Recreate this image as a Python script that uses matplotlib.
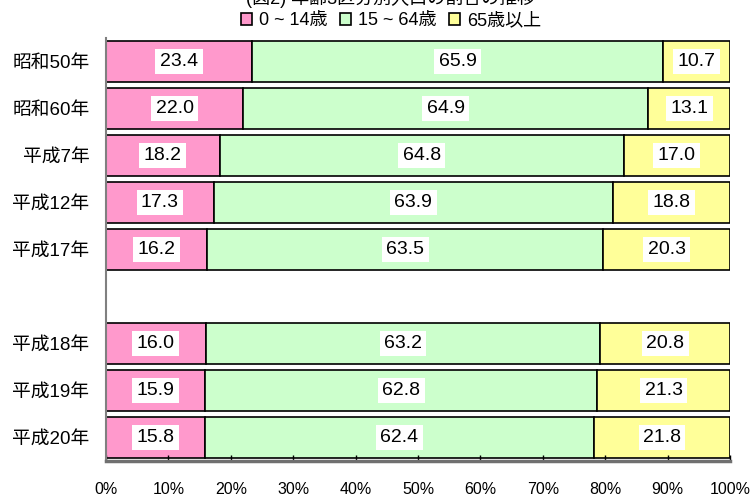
import numpy as np
import matplotlib
matplotlib.use('Agg')
import matplotlib.pyplot as plt
from matplotlib.patches import Patch

plt.rcParams['font.family'] = ['Liberation Sans Narrow', 'Liberation Sans', 'Noto Sans CJK JP']

years = ['昭和50年', '昭和60年', '平成7年', '平成12年', '平成17年',
         '平成18年', '平成19年', '平成20年']
young = [23.4, 22.0, 18.2, 17.3, 16.2, 16.0, 15.9, 15.8]
working = [65.9, 64.9, 64.8, 63.9, 63.5, 63.2, 62.8, 62.4]
old = [10.7, 13.1, 17.0, 18.8, 20.3, 20.8, 21.3, 21.8]
series_names = ['0 ~ 14歳', '15 ~ 64歳', '65歳以上']
colors = ['#FF99CC', '#CCFFCC', '#FFFF99']
title = '(図2) 年齢3区分別人口の割合の推移'

# empty slot between 平成17年 and 平成18年
pos = np.array([i if i < 5 else i + 1 for i in range(len(years))])

fig = plt.figure(figsize=(7.5, 4.99), dpi=100)
ax = fig.add_axes([106/750, 1 - 461/499, (730-106)/750, (461-38)/499])

left = np.zeros(len(years))
for vals, c in zip([young, working, old], colors):
    vals = np.array(vals)
    ax.barh(pos, vals, left=left, height=0.89, color=c, edgecolor='black', linewidth=1.2)
    for p, l, v in zip(pos, left, vals):
        ax.text(l + v / 2, p, f'{v:.1f}', ha='center', va='center', fontsize=14,
                bbox=dict(boxstyle='square,pad=0.23', fc='white', ec='none'))
    left = left + vals

ax.set_xlim(0, 100)
ax.set_ylim(8.5, -0.5)
ax.set_xticks(np.arange(0, 101, 10))
ax.set_xticklabels([f'{t}%' for t in range(0, 101, 10)], fontsize=11.5)
ax.set_yticks(pos)
ax.set_yticklabels(years, fontsize=13.5)
ax.tick_params(axis='y', length=0, pad=12)
ax.tick_params(axis='x', direction='in', length=4, width=1, pad=15)
for s in ['top', 'right']:
    ax.spines[s].set_visible(False)
ax.spines['left'].set_color('#808080')
ax.spines['left'].set_linewidth(1.5)
ax.spines['bottom'].set_color('#707070')
ax.spines['bottom'].set_linewidth(2.5)

handles = [Patch(facecolor=c, edgecolor='black', linewidth=1.2) for c in colors]
fig.legend(handles, series_names, loc='center', bbox_to_anchor=(391/750, 1 - 21/499),
           ncol=3, frameon=False, fontsize=13, handlelength=0.6, handleheight=0.6,
           handletextpad=0.4, columnspacing=0.7)

fig.text(391/750, 1.004, title, ha='center', va='center', fontsize=13)

fig.savefig('out.png', dpi=100)
